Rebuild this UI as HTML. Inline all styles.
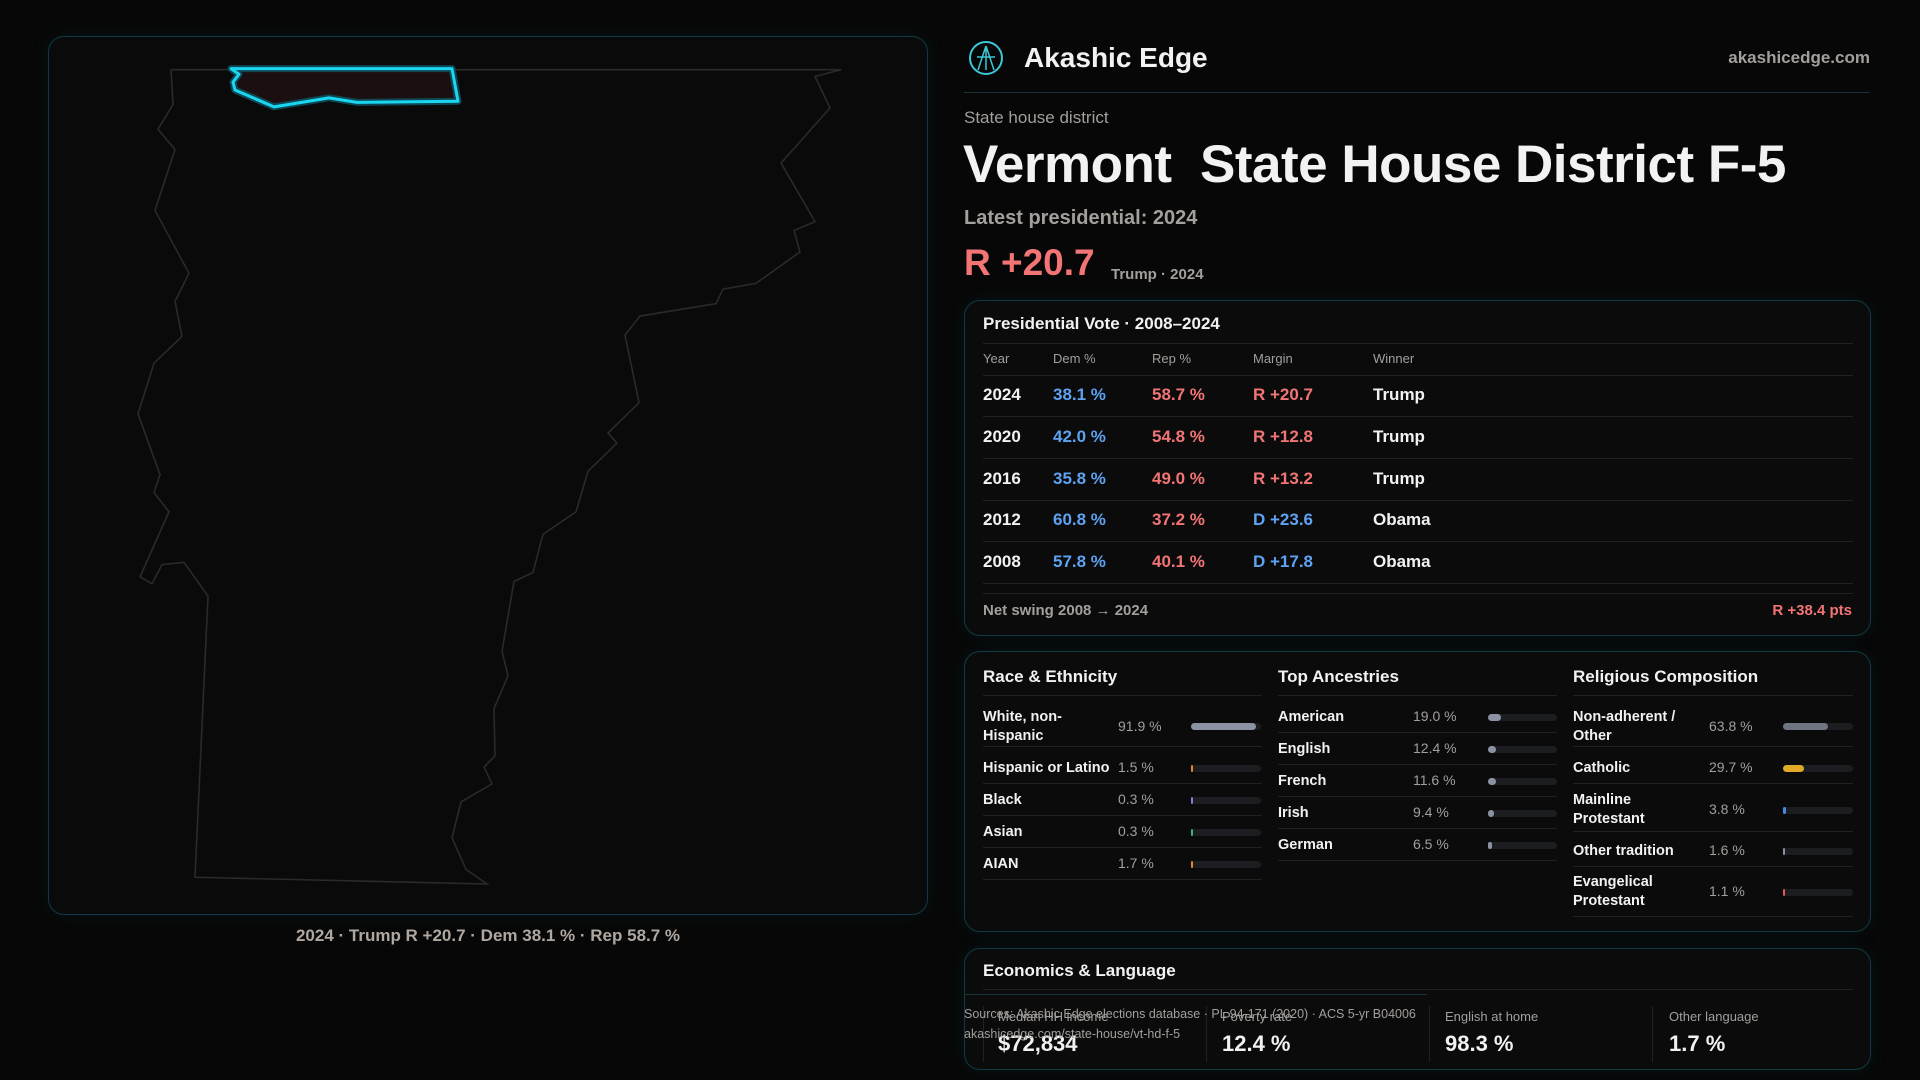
<!DOCTYPE html>
<html><head><meta charset="utf-8"><style>
*{margin:0;padding:0;box-sizing:border-box}
body{width:1920px;height:1080px;background:#070707;font-family:"Liberation Sans",sans-serif;color:#f2f2f2;position:relative;overflow:hidden}
.a{position:absolute;white-space:nowrap}
.card{position:absolute;background:#0b0b0c;border:1.5px solid #103a44;border-radius:16px;box-shadow:0 0 18px rgba(20,120,140,0.12)}
.g{color:#a39f9b}
.b{color:#5ea2f2}.r{color:#f27474}
.hl{position:absolute;height:1px;background:#1f2224}
.bar{position:absolute;height:7px;border-radius:4px;background:#1b1d20}
.bar i{position:absolute;left:0;top:0;height:7px;border-radius:4px;display:block}
.lbl{font-size:14.5px;font-weight:bold;line-height:19px}
.val{font-size:14px;color:#a39f9b}
.row{font-size:17px;font-weight:bold}
</style></head><body>

<div class="card" style="left:48px;top:36px;width:880px;height:879px;background:#0a0a0b"></div>
<svg class="a" style="left:0;top:0" width="960" height="1080">
<g transform="scale(1,1.1247)">
<polygon fill="none" stroke="#2a2a2b" stroke-width="1.6" vector-effect="non-scaling-stroke" points="171,62 173,93 158,115 175,133 155,187 189,243 175,268 182,299 154,323 138,368 160,422 154,438 169,455 140,513 152,519 162,502 184,500 208,530 195,780 487,786 466,773 452,745 461,713 492,697 484,682 495,672 494,630 508,601 502,579 514,517 533,509 543,475 576,455 588,419 617,394 608,385 639,358 625,298 640,281 716,270 723,257 756,252 800,224 794,205 815,197 781,145 830,96 815,68 841,62"/>
<polygon fill="#1c0f11" stroke="#0e4652" stroke-width="7" vector-effect="non-scaling-stroke" stroke-linejoin="round" points="231,61 452,61 458,90 357,91 329,87 274,95 235,80 233,73 239,66"/>
<polygon fill="none" stroke="#1ad6f0" stroke-width="3" vector-effect="non-scaling-stroke" stroke-linejoin="round" points="231,61 452,61 458,90 357,91 329,87 274,95 235,80 233,73 239,66"/>
</g>
</svg>
<div class="a g" style="left:0;width:976px;text-align:center;top:926px;font-size:17px;font-weight:bold;color:#b0a8a0">2024 · Trump R +20.7 · Dem 38.1 % · Rep 58.7 %</div>

<svg class="a" style="left:968px;top:40px" width="36" height="36"><circle cx="18" cy="18" r="16" fill="none" stroke="#3cc6d6" stroke-width="2"/><path d="M18 6 L10 30 M18 6 L26 30 M9 17 L27 17 M18 6 V30" stroke="#3cc6d6" stroke-width="1.5" fill="none"/></svg>
<div class="a" style="left:1024px;top:42px;font-size:28px;font-weight:bold">Akashic Edge</div>
<div class="a g" style="right:50px;top:48px;font-size:17px;font-weight:bold">akashicedge.com</div>
<div class="hl" style="left:964px;top:92px;width:906px;background:#1a3338"></div>
<div class="a g" style="left:964px;top:108px;font-size:17px">State house district</div>
<div class="a" style="left:963px;top:134px;font-size:53px;font-weight:bold;letter-spacing:-0.5px">Vermont&nbsp; State House District F-5</div>
<div class="a g" style="left:964px;top:207px;font-size:20px;font-weight:bold">Latest presidential: 2024</div>
<div class="a r" style="left:964px;top:242px;font-size:37px;font-weight:bold">R +20.7</div>
<div class="a g" style="left:1111px;top:266px;font-size:15px;font-weight:bold">Trump · 2024</div>

<div class="card" style="left:964px;top:300px;width:907px;height:336px"></div>
<div class="a" style="left:983px;top:314px;font-size:17px;font-weight:bold">Presidential Vote · 2008–2024</div>
<div class="hl" style="left:983px;top:343px;width:870px"></div>
<div class="a g" style="left:983px;top:351px;font-size:13px">Year</div>
<div class="a g" style="left:1053px;top:351px;font-size:13px">Dem %</div>
<div class="a g" style="left:1152px;top:351px;font-size:13px">Rep %</div>
<div class="a g" style="left:1253px;top:351px;font-size:13px">Margin</div>
<div class="a g" style="left:1373px;top:351px;font-size:13px">Winner</div>
<div class="hl" style="left:983px;top:375px;width:870px"></div>
<div class="a row" style="left:983px;top:385px">2024</div><div class="a row b" style="left:1053px;top:385px">38.1 %</div><div class="a row r" style="left:1152px;top:385px">58.7 %</div><div class="a row r" style="left:1253px;top:385px">R +20.7</div><div class="a row" style="left:1373px;top:385px">Trump</div>
<div class="hl" style="left:983px;top:416px;width:870px"></div>
<div class="a row" style="left:983px;top:427px">2020</div><div class="a row b" style="left:1053px;top:427px">42.0 %</div><div class="a row r" style="left:1152px;top:427px">54.8 %</div><div class="a row r" style="left:1253px;top:427px">R +12.8</div><div class="a row" style="left:1373px;top:427px">Trump</div>
<div class="hl" style="left:983px;top:458px;width:870px"></div>
<div class="a row" style="left:983px;top:469px">2016</div><div class="a row b" style="left:1053px;top:469px">35.8 %</div><div class="a row r" style="left:1152px;top:469px">49.0 %</div><div class="a row r" style="left:1253px;top:469px">R +13.2</div><div class="a row" style="left:1373px;top:469px">Trump</div>
<div class="hl" style="left:983px;top:500px;width:870px"></div>
<div class="a row" style="left:983px;top:510px">2012</div><div class="a row b" style="left:1053px;top:510px">60.8 %</div><div class="a row r" style="left:1152px;top:510px">37.2 %</div><div class="a row b" style="left:1253px;top:510px">D +23.6</div><div class="a row" style="left:1373px;top:510px">Obama</div>
<div class="hl" style="left:983px;top:541px;width:870px"></div>
<div class="a row" style="left:983px;top:552px">2008</div><div class="a row b" style="left:1053px;top:552px">57.8 %</div><div class="a row r" style="left:1152px;top:552px">40.1 %</div><div class="a row b" style="left:1253px;top:552px">D +17.8</div><div class="a row" style="left:1373px;top:552px">Obama</div>
<div class="hl" style="left:983px;top:583px;width:870px"></div>
<div class="hl" style="left:983px;top:593px;width:870px"></div>
<div class="a g" style="left:983px;top:602px;font-size:15px;font-weight:bold">Net swing 2008 → 2024</div>
<div class="a r" style="right:68px;top:602px;font-size:15px;font-weight:bold">R +38.4 pts</div>

<div class="card" style="left:964px;top:651px;width:907px;height:281px"></div>
<div class="a" style="left:983px;top:667px;font-size:17px;font-weight:bold">Race &amp; Ethnicity</div>
<div class="a" style="left:1278px;top:667px;font-size:17px;font-weight:bold">Top Ancestries</div>
<div class="a" style="left:1573px;top:667px;font-size:17px;font-weight:bold">Religious Composition</div>
<div class="hl" style="left:983px;top:695px;width:279px"></div><div class="hl" style="left:1278px;top:695px;width:279px"></div><div class="hl" style="left:1573px;top:695px;width:280px"></div>

<div class="a lbl" style="left:983px;top:708px">White, non-<br>Hispanic</div><div class="a val" style="left:1118px;top:718px">91.9 %</div><div class="bar" style="left:1191px;top:723px;width:70px"><i style="width:65px;background:#8b93a3"></i></div>
<div class="hl" style="left:983px;top:746px;width:279px"></div>
<div class="a lbl" style="left:983px;top:759px">Hispanic or Latino</div><div class="a val" style="left:1118px;top:759px">1.5 %</div><div class="bar" style="left:1191px;top:765px;width:70px"><i style="width:2px;background:#e08a2a"></i></div>
<div class="hl" style="left:983px;top:783px;width:279px"></div>
<div class="a lbl" style="left:983px;top:791px">Black</div><div class="a val" style="left:1118px;top:791px">0.3 %</div><div class="bar" style="left:1191px;top:797px;width:70px"><i style="width:2px;background:#8a7ae0"></i></div>
<div class="hl" style="left:983px;top:815px;width:279px"></div>
<div class="a lbl" style="left:983px;top:823px">Asian</div><div class="a val" style="left:1118px;top:823px">0.3 %</div><div class="bar" style="left:1191px;top:829px;width:70px"><i style="width:2px;background:#3ab08a"></i></div>
<div class="hl" style="left:983px;top:847px;width:279px"></div>
<div class="a lbl" style="left:983px;top:855px">AIAN</div><div class="a val" style="left:1118px;top:855px">1.7 %</div><div class="bar" style="left:1191px;top:861px;width:70px"><i style="width:2px;background:#e08a2a"></i></div>
<div class="hl" style="left:983px;top:879px;width:279px"></div>

<div class="a lbl" style="left:1278px;top:708px">American</div><div class="a val" style="left:1413px;top:708px">19.0 %</div><div class="bar" style="left:1488px;top:714px;width:69px"><i style="width:13px;background:#8b93a3"></i></div>
<div class="hl" style="left:1278px;top:732px;width:279px"></div>
<div class="a lbl" style="left:1278px;top:740px">English</div><div class="a val" style="left:1413px;top:740px">12.4 %</div><div class="bar" style="left:1488px;top:746px;width:69px"><i style="width:8px;background:#8b93a3"></i></div>
<div class="hl" style="left:1278px;top:764px;width:279px"></div>
<div class="a lbl" style="left:1278px;top:772px">French</div><div class="a val" style="left:1413px;top:772px">11.6 %</div><div class="bar" style="left:1488px;top:778px;width:69px"><i style="width:8px;background:#8b93a3"></i></div>
<div class="hl" style="left:1278px;top:796px;width:279px"></div>
<div class="a lbl" style="left:1278px;top:804px">Irish</div><div class="a val" style="left:1413px;top:804px">9.4 %</div><div class="bar" style="left:1488px;top:810px;width:69px"><i style="width:6px;background:#8b93a3"></i></div>
<div class="hl" style="left:1278px;top:828px;width:279px"></div>
<div class="a lbl" style="left:1278px;top:836px">German</div><div class="a val" style="left:1413px;top:836px">6.5 %</div><div class="bar" style="left:1488px;top:842px;width:69px"><i style="width:4px;background:#8b93a3"></i></div>
<div class="hl" style="left:1278px;top:860px;width:279px"></div>

<div class="a lbl" style="left:1573px;top:708px">Non-adherent /<br>Other</div><div class="a val" style="left:1709px;top:718px">63.8 %</div><div class="bar" style="left:1783px;top:723px;width:70px"><i style="width:45px;background:#6e7480"></i></div>
<div class="hl" style="left:1573px;top:746px;width:280px"></div>
<div class="a lbl" style="left:1573px;top:759px">Catholic</div><div class="a val" style="left:1709px;top:759px">29.7 %</div><div class="bar" style="left:1783px;top:765px;width:70px"><i style="width:21px;background:#e0aa28"></i></div>
<div class="hl" style="left:1573px;top:783px;width:280px"></div>
<div class="a lbl" style="left:1573px;top:791px">Mainline<br>Protestant</div><div class="a val" style="left:1709px;top:801px">3.8 %</div><div class="bar" style="left:1783px;top:807px;width:70px"><i style="width:3px;background:#4a8ae0"></i></div>
<div class="hl" style="left:1573px;top:831px;width:280px"></div>
<div class="a lbl" style="left:1573px;top:842px">Other tradition</div><div class="a val" style="left:1709px;top:842px">1.6 %</div><div class="bar" style="left:1783px;top:848px;width:70px"><i style="width:2px;background:#8b93a3"></i></div>
<div class="hl" style="left:1573px;top:866px;width:280px"></div>
<div class="a lbl" style="left:1573px;top:873px">Evangelical<br>Protestant</div><div class="a val" style="left:1709px;top:883px">1.1 %</div><div class="bar" style="left:1783px;top:889px;width:70px"><i style="width:2px;background:#e05a5a"></i></div>
<div class="hl" style="left:1573px;top:916px;width:280px"></div>

<div class="card" style="left:964px;top:948px;width:907px;height:122px"></div>
<div class="a" style="left:983px;top:961px;font-size:17px;font-weight:bold">Economics &amp; Language</div>
<div class="hl" style="left:983px;top:989px;width:870px"></div>
<div class="hl" style="left:964px;top:994px;width:463px;background:#17363c"></div>
<div class="a" style="left:983px;top:1006px;width:1px;height:56px;background:#1f2224"></div>
<div class="a" style="left:1206px;top:1006px;width:1px;height:56px;background:#1f2224"></div>
<div class="a" style="left:1429px;top:1006px;width:1px;height:56px;background:#1f2224"></div>
<div class="a" style="left:1652px;top:1006px;width:1px;height:56px;background:#1f2224"></div>
<div class="a g" style="left:998px;top:1009px;font-size:13px">Median HH income</div>
<div class="a g" style="left:1222px;top:1009px;font-size:13px">Poverty rate</div>
<div class="a g" style="left:1445px;top:1009px;font-size:13px">English at home</div>
<div class="a g" style="left:1669px;top:1009px;font-size:13px">Other language</div>
<div class="a" style="left:998px;top:1031px;font-size:22px;font-weight:bold">$72,834</div>
<div class="a" style="left:1222px;top:1031px;font-size:22px;font-weight:bold">12.4 %</div>
<div class="a" style="left:1445px;top:1031px;font-size:22px;font-weight:bold">98.3 %</div>
<div class="a" style="left:1669px;top:1031px;font-size:22px;font-weight:bold">1.7 %</div>
<div class="a g" style="left:964px;top:1007px;font-size:12.5px">Sources: Akashic Edge elections database · PL 94-171 (2020) · ACS 5-yr B04006</div>
<div class="a g" style="left:964px;top:1027px;font-size:12.5px">akashicedge.com/state-house/vt-hd-f-5</div>
</body></html>
